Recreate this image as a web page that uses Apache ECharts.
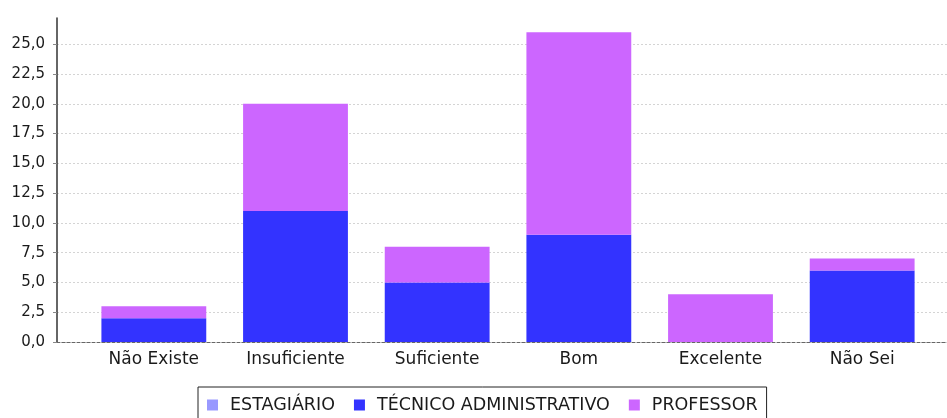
<!DOCTYPE html>
<html>
<head>
<meta charset="utf-8">
<script src="https://cdn.jsdelivr.net/npm/echarts@6/dist/echarts.min.js"></script>
<style>
  html, body { margin: 0; padding: 0; background: #fff; }
  #chart { width: 947px; height: 418px; }
</style>
</head>
<body>
<div id="chart"></div>
<script>
// categorias e valores
const categorias = ['Não Existe', 'Insuficiente', 'Suficiente', 'Bom', 'Excelente', 'Não Sei']
const estagiario = [0, 0, 0, 0, 0, 0]
const tecnico = [2, 11, 5, 9, 0, 6]
const professor = [1, 9, 3, 17, 4, 1]
const yMax = 27.2
const yStep = 2.5

const fmt = (v) => {
  if (Math.abs(v / yStep - Math.round(v / yStep)) > 1e-6) return ''
  return v.toFixed(1).replace('.', ',')
}

const chart = echarts.init(document.getElementById('chart'))

const option = {
  animation: false,
  textStyle: { fontFamily: 'DejaVu Sans' },
  legend: {
    data: ['ESTAGIÁRIO', 'TÉCNICO ADMINISTRATIVO', 'PROFESSOR'],
    left: 198,
    top: 387,
    itemWidth: 11,
    itemHeight: 11,
    itemGap: 19,
    icon: 'rect',
    borderColor: '#222',
    borderWidth: 1,
    borderRadius: 0,
    padding: [9, 9, 14, 9],
    textStyle: { color: '#1a1a1a', fontSize: 17.5, fontFamily: 'DejaVu Sans', padding: [0, 0, 0, 7] }
  },
  grid: [
    { left: 57, right: 0, top: 18, bottom: 76 },
    { left: 83, right: 14, top: 18, bottom: 76 }
  ],
  xAxis: [
    {
      gridIndex: 0,
      type: 'value',
      min: 0,
      max: 1,
      axisLine: { show: true, lineStyle: { color: '#666', type: [3, 2], width: 1 } },
      axisTick: { show: false },
      axisLabel: { show: false },
      splitLine: { show: false }
    },
    {
      gridIndex: 1,
      type: 'category',
      data: categorias,
      axisLine: { show: false },
      axisTick: { show: false },
      axisLabel: { color: '#1a1a1a', fontSize: 17, margin: 9 }
    }
  ],
  yAxis: [
    {
      gridIndex: 0,
      type: 'value',
      min: 0,
      max: yMax,
      interval: yStep,
      axisLine: { show: true, lineStyle: { color: '#333', width: 1.5 } },
      axisTick: { show: true, length: 4, lineStyle: { color: '#888' } },
      axisLabel: { color: '#1a1a1a', fontSize: 15, margin: 12, formatter: fmt, showMaxLabel: false },
      splitLine: { show: true, showMaxLine: false, lineStyle: { color: '#d4d4d4', type: [2, 2], width: 1 } }
    },
    {
      gridIndex: 1,
      type: 'value',
      min: 0,
      max: yMax,
      show: false,
      splitLine: { show: false }
    }
  ],
  series: [
    {
      name: 'ESTAGIÁRIO',
      type: 'bar',
      stack: 'total',
      xAxisIndex: 1,
      yAxisIndex: 1,
      barWidth: '74%',
      data: estagiario,
      itemStyle: { color: '#9999ff' }
    },
    {
      name: 'TÉCNICO ADMINISTRATIVO',
      type: 'bar',
      stack: 'total',
      xAxisIndex: 1,
      yAxisIndex: 1,
      barWidth: '74%',
      data: tecnico,
      itemStyle: { color: '#3333ff' }
    },
    {
      name: 'PROFESSOR',
      type: 'bar',
      stack: 'total',
      xAxisIndex: 1,
      yAxisIndex: 1,
      barWidth: '74%',
      data: professor,
      itemStyle: { color: '#cc66ff' }
    }
  ]
}

chart.setOption(option)
</script>
</body>
</html>
